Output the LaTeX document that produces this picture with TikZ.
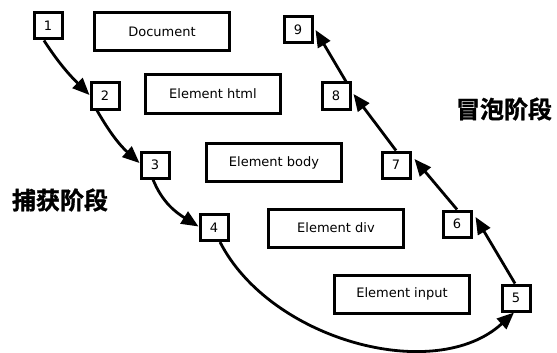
\documentclass[tikz,border=0pt]{standalone}
\usepackage{fontspec}
\setmainfont{DejaVu Sans}
\newfontfamily\cjk{Noto Sans CJK SC}[BoldFont=* Bold, BoldFeatures={FakeBold=1.2}]
\usetikzlibrary{arrows.meta}
\begin{document}
\begin{tikzpicture}[x=1pt,y=-1pt,
  elem/.style={draw, line width=3pt, minimum width=135pt, minimum height=38pt, inner sep=0pt, font=\fontsize{13}{15}\selectfont},
  num/.style={draw, line width=3pt, fill=white, minimum width=28pt, minimum height=26pt, inner sep=0pt, font=\fontsize{13}{15}\selectfont},
  arr/.style={line width=2.8pt, -{Triangle[length=17pt,width=14pt]}},
  phase/.style={font=\cjk\bfseries\fontsize{24}{27}\selectfont}]
\useasboundingbox (0,0) rectangle (557,353);
\node[elem] (doc) at (162,31.5) {Document};
\node[elem] (html) at (213,94) {Element html};
\node[elem] (body) at (274,162.5) {Element body};
\node[elem] (div) at (336,228) {Element div};
\node[elem] (input) at (402,294) {Element input};
\node[num] (n1) at (48,26) {1};
\node[num] (n2) at (105,96) {2};
\node[num] (n3) at (155,165) {3};
\node[num] (n4) at (214,227.5) {4};
\node[num] (n5) at (516,298) {5};
\node[num] (n6) at (457,224) {6};
\node[num] (n7) at (396,165) {7};
\node[num] (n8) at (336,96) {8};
\node[num] (n9) at (298,30) {9};
\node[phase] (cap) at (60,200) {捕获阶段};
\node[phase] (bub) at (504,109) {冒泡阶段};
\draw[arr] ([xshift=-4pt]n1.south) to[out=-57,in=135] ([yshift=1pt]n2.west);
\draw[arr] ([xshift=-8pt]n2.south) to[out=-60,in=138] ([yshift=2pt]n3.west);
\draw[arr] ([xshift=-2pt]n3.south) to[out=-68,in=148] ([yshift=1pt]n4.west);
\draw[arr] ([xshift=6pt]n4.south) .. controls (270,340) and (435,385) .. ([xshift=-2pt]n5.south);
\draw[arr] ([xshift=-1pt]n5.north) -- ([yshift=7pt,xshift=3pt]n6.east);
\draw[arr] (n6.north) -- ([yshift=6pt,xshift=3pt]n7.east);
\draw[arr] (n7.north) -- ([yshift=2pt,xshift=2pt]n8.east);
\draw[arr] ([xshift=10pt]n8.north) -- ([xshift=2pt]n9.east);
\end{tikzpicture}
\end{document}
